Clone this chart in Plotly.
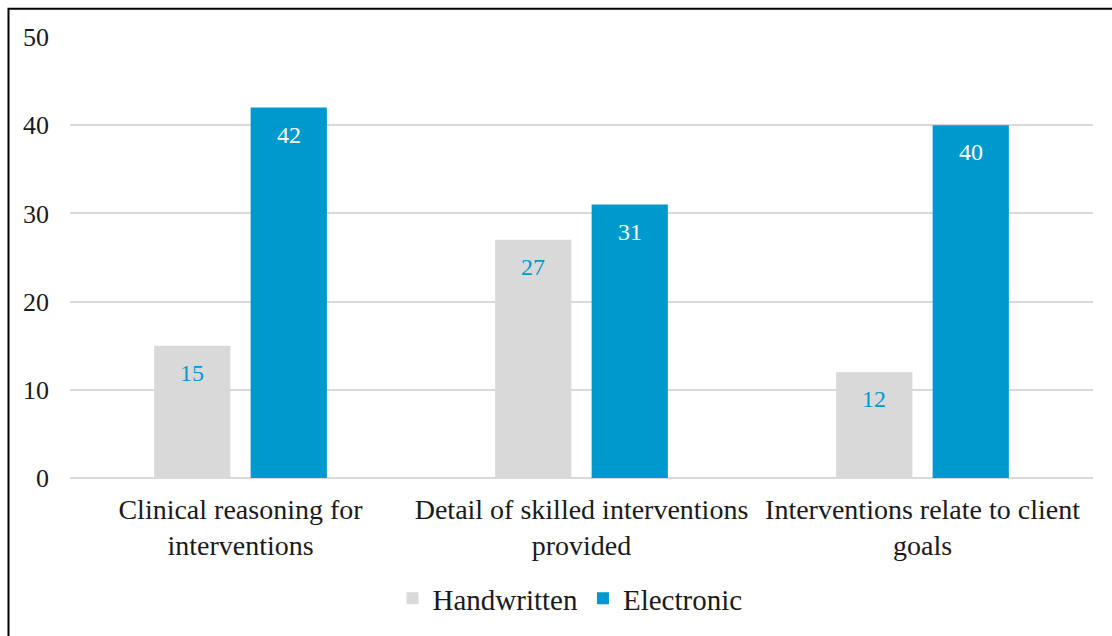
import plotly.graph_objects as go

# Chart data
categories = [
    "Clinical reasoning for<br>interventions",
    "Detail of skilled interventions<br>provided",
    "Interventions relate to client<br>goals",
]
handwritten = [15, 27, 12]
electronic = [42, 31, 40]
y_ticks = [0, 10, 20, 30, 40, 50]

GRAY = "#D9D9D9"
BLUE = "#0099CE"
TEXT = "#1a1a1a"
FONT = "'Liberation Serif', 'Times New Roman', serif"

W, H = 1112, 636
ML, MR, MT, MB = 70, 19, 37, 156
PW, PH = W - ML - MR, H - MT - MB

fig = go.Figure()
fig.add_trace(go.Bar(
    name="Handwritten", x=categories, y=handwritten,
    marker=dict(color=GRAY, line=dict(width=0)),
))
fig.add_trace(go.Bar(
    name="Electronic", x=categories, y=electronic,
    marker=dict(color=BLUE, line=dict(width=0)),
))

# Value labels sitting just inside the top of each bar
annotations = []
slot_px = PW / 3 * (1 - 0.434) / 2
for series, color, shift in ((handwritten, BLUE, -slot_px / 2), (electronic, "white", slot_px / 2)):
    for cat, val in zip(categories, series):
        annotations.append(dict(
            x=cat, y=val, xref="x", yref="y", text=str(val), showarrow=False,
            xshift=shift, yshift=-27, font=dict(family=FONT, size=24, color=color),
        ))

# Outer frame around the chart
def px_to_paper_x(px):
    return (px - ML) / PW

def px_to_paper_y(py):
    return (H - MB - py) / PH

fig.update_layout(
    width=W, height=H,
    margin=dict(l=ML, r=MR, t=MT, b=MB),
    paper_bgcolor="white", plot_bgcolor="white",
    barmode="group", bargap=0.434, bargroupgap=0.21,
    font=dict(family=FONT, size=24, color=TEXT),
    showlegend=True,
    legend=dict(
        orientation="h", x=px_to_paper_x(570), xanchor="center",
        y=px_to_paper_y(601), yanchor="middle",
        font=dict(family=FONT, size=29, color=TEXT),
        itemsizing="constant", traceorder="normal",
    ),
    xaxis=dict(
        showgrid=False, showline=False, zeroline=False, ticks="",
        ticklabelstandoff=12,
        tickfont=dict(family=FONT, size=28, color=TEXT),
    ),
    yaxis=dict(
        range=[0, 50], tickvals=y_ticks, showgrid=True, gridcolor=GRAY, gridwidth=1.5,
        zeroline=True, zerolinecolor=GRAY, zerolinewidth=1.5, showline=False,
        ticks="", ticklabelstandoff=20,
        tickfont=dict(family=FONT, size=26, color=TEXT),
    ),
    annotations=annotations,
    shapes=[dict(
        type="rect", xref="paper", yref="paper",
        x0=px_to_paper_x(8.5), x1=px_to_paper_x(1125),
        y0=px_to_paper_y(650), y1=px_to_paper_y(8.5),
        line=dict(color="black", width=2), fillcolor="rgba(0,0,0,0)", layer="above",
    )],
)

fig.write_html("out.html")
